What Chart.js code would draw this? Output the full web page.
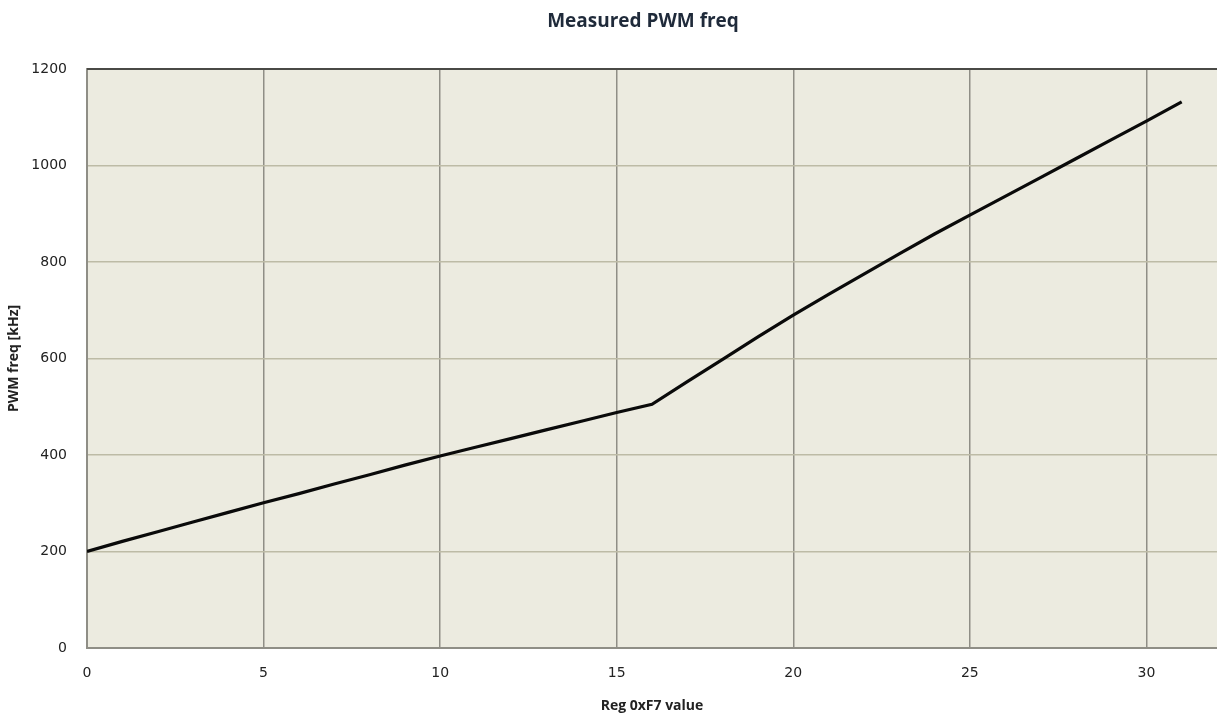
<!DOCTYPE html>
<html>
<head>
<meta charset="utf-8">
<script src="https://cdn.jsdelivr.net/npm/chart.js@4.4.0/dist/chart.umd.min.js"></script>
<style>
html,body{margin:0;padding:0;background:#fff;overflow:hidden;}
#wrap{width:1217px;height:717px;position:relative;}
</style>
</head>
<body>
<div id="wrap"><canvas id="c"></canvas></div>
<script>
const chartTitle = "Measured PWM freq";
const xAxisTitle = "Reg 0xF7 value";
const yAxisTitle = "PWM freq [kHz]";
const regValues = [0,1,2,3,4,5,6,7,8,9,10,11,12,13,14,15,16,17,18,19,20,21,22,23,24,25,26,27,28,29,30,31];
const freqKHz = [200,221,241,261,281,301,320,340,359,379,398,416,434,452,470,488,505,552,598,645,690,733,775,817,858,897,936,975,1014,1053,1092,1132];
const xTicks = [0,5,10,15,20,25,30];
const yTicks = [0,200,400,600,800,1000,1200];

const points = regValues.map((x,i)=>({x:x,y:freqKHz[i]}));

const frame = {
  id:'frame',
  afterDraw(chart){
    const {ctx, chartArea:a} = chart;
    ctx.save();
    ctx.strokeStyle = '#4a4a46';
    ctx.lineWidth = 2;
    ctx.beginPath();
    ctx.moveTo(a.left, a.top);
    ctx.lineTo(a.right, a.top);
    ctx.stroke();
    ctx.fillStyle = '#1f2a3a';
    ctx.font = 'bold 19px "Open Sans"';
    ctx.textAlign = 'center';
    ctx.textBaseline = 'middle';
    ctx.fillText(chartTitle, 643, 22);
    ctx.restore();
  }
};
const bg = {
  id:'bg',
  beforeDraw(chart){
    const {ctx, chartArea:a} = chart;
    ctx.save();
    ctx.fillStyle = '#ecebe0';
    ctx.fillRect(a.left, a.top, a.right-a.left, a.bottom-a.top);
    ctx.restore();
  }
};

new Chart(document.getElementById('c'), {
  type:'line',
  data:{datasets:[{
    data:points,
    borderColor:'#0a0a0a',
    borderWidth:3.2,
    pointRadius:0,
    tension:0,
    fill:false
  }]},
  options:{
    responsive:true,
    maintainAspectRatio:false,
    animation:false,
    layout:{padding:{top:69,right:0,left:0,bottom:0}},
    plugins:{legend:{display:false},tooltip:{enabled:false},title:{display:false}},
    scales:{
      x:{
        type:'linear',
        min:0,max:32,
        afterBuildTicks(s){ s.ticks = xTicks.map(v=>({value:v})); },
        afterFit(s){ s.height = 69; },
        grid:{color:'#8f8e86',lineWidth:1.5,drawTicks:false},
        border:{color:'#8f8e86',width:2},
        ticks:{padding:17,color:'#222',font:{family:'DejaVu Sans',size:14},maxRotation:0,autoSkip:false,callback:v=>String(v)},
        title:{display:true,text:xAxisTitle,color:'#222',font:{family:'Open Sans',size:14,weight:'bold'},padding:{top:0,bottom:3}}
      },
      y:{
        type:'linear',
        min:0,max:1200,
        afterBuildTicks(s){ s.ticks = yTicks.map(v=>({value:v})); },
        afterFit(s){ s.width = 87; },
        grid:{color:'#bdbba6',lineWidth:1.5,drawTicks:false},
        border:{color:'#8f8e86',width:2},
        ticks:{padding:20,color:'#222',font:{family:'DejaVu Sans',size:14},callback:v=>String(v)},
        title:{display:true,text:yAxisTitle,color:'#222',font:{family:'Open Sans',size:14,weight:'bold'},padding:{top:6,bottom:4}}
      }
    }
  },
  plugins:[bg,frame]
});
</script>
</body>
</html>
